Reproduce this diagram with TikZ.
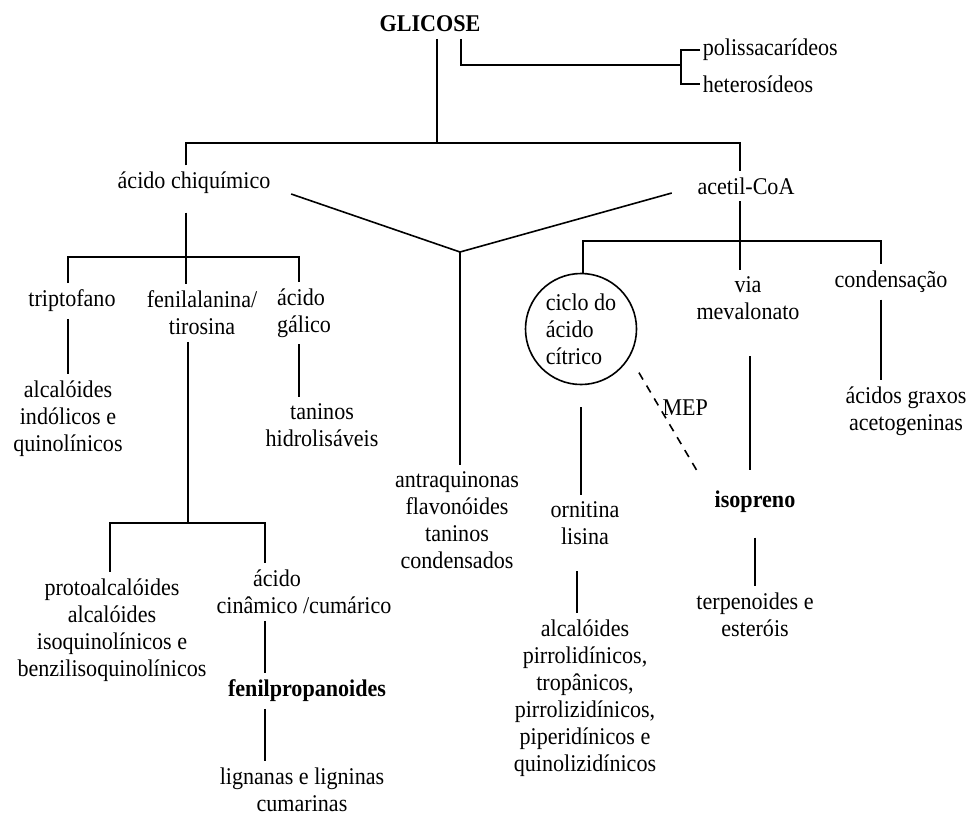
\documentclass[tikz,border=0pt]{standalone}
\usepackage{fontspec}
\setmainfont{Liberation Serif}[FakeStretch=0.92]

\tikzset{
  txt/.style={inner sep=3pt, align=center, font=\fontsize{12}{13.5}\selectfont},
  btxt/.style={txt, font=\fontsize{12}{13.5}\selectfont\bfseries},
  mep/.style={dash pattern=on 4pt off 3.5pt},
}

\begin{document}
\begin{tikzpicture}[x=0.5pt,y=-0.5pt,every path/.style={line width=0.8pt}]
\useasboundingbox (0,0) rectangle (972,815);

% texto
\node[btxt] (glic) at (430,24) {GLICOSE};
\node[txt,anchor=west,inner sep=1pt] (poli) at (700,50) {polissacarídeos};
\node[txt,anchor=west,inner sep=1pt] (hete) at (700,84) {heterosídeos};
\node[txt] (chiq) at (194,183) {ácido chiquímico};
\node[txt] (acet) at (746,186) {acetil-CoA};
\node[txt] (tript) at (72,301) {triptofano};
\node[txt] (fenal) at (202,313) {fenilalanina/\\tirosina};
\node[txt,align=left] (gali) at (304,313) {ácido\\gálico};
\node[txt] (alcind) at (68,419) {alcalóides\\indólicos e\\quinolínicos};
\node[txt] (tanh) at (322,425) {taninos\\hidrolisáveis};
\node[txt] (antra) at (457,520) {antraquinonas\\flavonóides\\taninos\\condensados};
\node[txt] (proto) at (112,630) {protoalcalóides\\alcalóides\\isoquinolínicos e\\benzilisoquinolínicos};
\node[txt] (cina) at (304,592) {ácido\hspace*{27pt}\\cinâmico /cumárico};
\node[btxt] (fprop) at (307,691) {fenilpropanoides};
\node[txt] (lign) at (302,790) {lignanas e ligninas\\cumarinas};
\node[txt,draw,circle,align=left,minimum size=55.5pt,inner sep=0pt] (cac) at (581,329) {ciclo do\\ácido\\cítrico};
\node[txt] (vmev) at (748,298) {via\\mevalonato};
\node[txt] (cond) at (891,282) {condensação};
\node[txt] (acgr) at (906,411) {ácidos graxos\\acetogeninas};
\node[btxt] (isop) at (755,502) {isopreno};
\node[txt] (terp) at (755,615) {terpenoides e\\esteróis};
\node[txt] (orni) at (585,523) {ornitina\\lisina};
\node[txt] (alcp) at (585,698) {alcalóides\\pirrolidínicos,\\tropânicos,\\pirrolizidínicos,\\piperidínicos e\\quinolizidínicos};

% junções
\coordinate (j0) at (437,143);
\coordinate (b1l) at (186,143);
\coordinate (b1r) at (740,143);
\coordinate (hk) at (461,65);
\coordinate (br) at (681,65);
\coordinate (ym) at (460,252);
\coordinate (j2) at (186,257);
\coordinate (b2l) at (68,257);
\coordinate (b2r) at (299,257);
\coordinate (j3) at (188,523);
\coordinate (b3l) at (110,523);
\coordinate (b3r) at (265,523);
\coordinate (b4l) at (583,241);
\coordinate (b4r) at (881,241);
\coordinate (xmev) at (750,0);
\coordinate (xorn) at (577,0);

% GLICOSE
\draw (glic.south -| j0) -- (j0);
\draw (glic.south -| hk) -- (hk) -- (br);
\draw (poli.west) -| (br) |- (hete.west);
\draw (chiq.north -| b1l) -- (b1l) -- (b1r) -- (acet.north -| b1r);

% Y central
\draw ([shift={(14,11)}]chiq.east) -- (ym) -- ([shift={(-19,7)}]acet.west);
\draw (ym) -- (antra.north -| ym);

% ácido chiquímico
\draw[shorten <=6pt] (chiq.south -| j2) -- (j2);
\draw (tript.north -| b2l) -- (b2l) -- (b2r) -- (gali.north -| b2r);
\draw (j2) -- (fenal.north -| j2);
\draw (tript.south -| alcind) -- (alcind.north);
\draw (gali.south -| b2r) -- (tanh.north -| b2r);
\draw (fenal.south -| j3) -- (j3);
\draw (proto.north -| b3l) -- (b3l) -- (b3r) -- (cina.north -| b3r);
\draw (cina.south -| b3r) -- (fprop.north -| b3r);
\draw (fprop.south -| b3r) -- (lign.north -| b3r);

% acetil-CoA
\draw (acet.south -| b1r) -- (vmev.north -| b1r);
\draw (cac.north -| b4l) -- (b4l) -- (b4r) -- (cond.north -| b4r);
\draw (cond.south -| b4r) -- (acgr.north -| b4r);
\draw[shorten <=15pt,shorten >=7pt] (vmev.south -| xmev) -- (isop.north -| xmev);
\draw[shorten <=9pt] (isop.south) -- (terp.north -| isop.south);
\draw[mep,shorten <=9pt] (cac.330) -- node[txt,pos=0.44,right,inner sep=1pt] (mepl) {MEP} ([shift={(-10,-12)}]isop.north west);
\draw[shorten <=11pt] (cac.south) -- (orni.north -| cac.south);
\draw[shorten <=10pt] (orni.south -| xorn) -- (alcp.north -| xorn);
\end{tikzpicture}
\end{document}
